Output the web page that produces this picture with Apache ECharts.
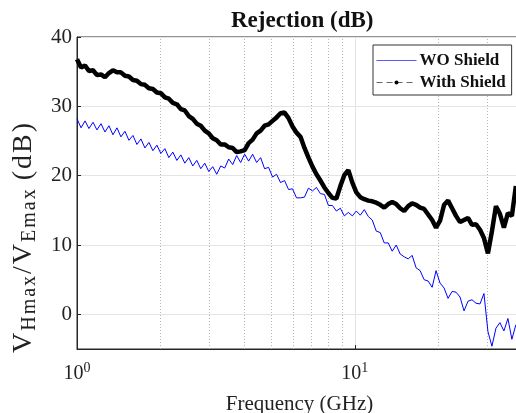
<!DOCTYPE html>
<html>
<head>
<meta charset="utf-8">
<script src="https://cdn.jsdelivr.net/npm/echarts@6/dist/echarts.min.js"></script>
<style>
  html, body { margin: 0; padding: 0; background: #fff; }
  #chart { width: 516px; height: 413px; }
</style>
</head>
<body>
<div id="chart"></div>
<script>
// Frequency samples (GHz), log-spaced
const freqGHz = [
  1.000, 1.034, 1.069, 1.104, 1.142, 1.180, 1.220, 1.261, 1.303, 1.347,
  1.393, 1.439, 1.488, 1.538, 1.590, 1.643, 1.699, 1.756, 1.815, 1.876,
  1.939, 2.004, 2.072, 2.141, 2.213, 2.288, 2.365, 2.444, 2.526, 2.611,
  2.699, 2.790, 2.884, 2.981, 3.081, 3.184, 3.292, 3.402, 3.517, 3.635,
  3.757, 3.883, 4.014, 4.149, 4.288, 4.433, 4.582, 4.736, 4.895, 5.059,
  5.230, 5.405, 5.587, 5.775, 5.969, 6.170, 6.377, 6.591, 6.813, 7.042,
  7.278, 7.523, 7.776, 8.037, 8.307, 8.587, 8.875, 9.174, 9.482, 9.801,
  10.13, 10.47, 10.82, 11.19, 11.56, 11.95, 12.35, 12.77, 13.20, 13.64,
  14.10, 14.57, 15.06, 15.57, 16.09, 16.63, 17.19, 17.77, 18.37, 18.99,
  19.62, 20.28, 20.97, 21.67, 22.40, 23.15, 23.93, 24.74, 25.57, 26.43,
  27.32, 28.24, 29.18, 30.16, 31.18, 32.23, 33.31, 34.43, 35.59, 36.78, 38.02
];

// Rejection without shield (dB)
const woShield = [
  28.2, 26.9, 27.9, 26.8, 27.7, 26.6, 27.5, 26.3, 27.2, 25.9,
  26.9, 25.6, 26.4, 25.1, 25.8, 24.5, 25.3, 24.0, 24.8, 23.6,
  24.4, 23.2, 23.9, 22.6, 23.4, 22.2, 23.0, 21.8, 22.6, 21.4,
  22.2, 21.0, 21.8, 20.6, 21.3, 20.2, 21.4, 21.1, 22.4, 21.6,
  22.9, 21.9, 23.1, 22.1, 23.1, 21.9, 22.6, 21.0, 21.2, 19.8,
  20.2, 19.0, 19.3, 18.0, 18.1, 16.8, 16.8, 16.9, 18.2, 17.8,
  18.3, 17.4, 17.3, 15.7, 15.7, 14.9, 15.3, 14.2, 14.7, 14.2,
  14.9, 14.3, 15.1, 14.1, 13.6, 12.0, 11.8, 10.3, 10.3, 9.1,
  10.0, 8.7, 8.3, 8.0, 8.5, 6.7, 6.3, 5.0, 4.8, 3.9,
  6.3, 4.5, 3.8, 2.3, 3.3, 3.2, 2.5, 0.5, 1.9, 2.1,
  1.6, 1.5, 3.0, -2.5, -4.6, -2.0, -1.2, -2.4, -0.6, -3.6, -1.5
];

// Rejection with shield (dB)
const withShield = [
  36.8, 35.6, 35.9, 35.1, 35.2, 34.5, 34.6, 34.2, 34.8, 35.2,
  34.9, 34.9, 34.4, 34.3, 33.8, 33.7, 33.2, 33.1, 32.6, 32.5,
  32.0, 31.9, 31.3, 31.1, 30.5, 30.3, 29.6, 29.4, 28.6, 28.2,
  27.5, 27.2, 26.5, 26.1, 25.4, 25.1, 24.5, 24.5, 24.1, 24.0,
  23.4, 23.5, 23.7, 24.7, 25.2, 26.1, 26.5, 27.2, 27.4, 27.9,
  28.4, 29.0, 29.1, 28.3, 27.1, 26.2, 25.6, 24.0, 22.6, 21.3,
  20.2, 19.3, 18.3, 17.5, 16.8, 16.7, 18.5, 20.1, 20.8, 19.0,
  17.6, 16.9, 16.6, 16.4, 16.3, 16.1, 15.8, 15.4, 15.9, 16.2,
  15.9, 15.3, 14.9, 15.6, 16.0, 15.8, 15.4, 15.2, 14.4, 13.6,
  12.5, 13.5, 15.8, 16.4, 15.3, 14.2, 13.3, 13.6, 13.9, 12.9,
  13.0, 12.2, 11.0, 8.8, 12.0, 15.6, 14.5, 12.5, 14.6, 14.2, 18.5
];

// Minor decade positions for the dotted vertical grid
const minorFreqTicks = [2, 3, 4, 5, 6, 7, 8, 9, 20, 30];

const seriesNames = ['WO Shield', 'With Shield'];
const titleText = 'Rejection (dB)';
const xAxisTitle = 'Frequency (GHz)';

const serif = 'Liberation Serif, Times New Roman, serif';
const pair = (xs, ys) => xs.map((x, i) => [x, ys[i]]);

// Rich-text helper: one token per character so the label can be letter-spaced
const spaced = (text, style) => Array.from(text).map(ch => '{' + style + '|' + ch + '}').join('');
const yAxisTitle = spaced('V', 'v') + spaced('Hmax', 'sub') + spaced('/V', 'v') +
                   spaced('Emax', 'sub') + '{gap| }' + spaced('(dB)', 'v');

const chart = echarts.init(document.getElementById('chart'), null, { renderer: 'canvas', width: 516, height: 413 });

chart.setOption({
  backgroundColor: '#fff',
  animation: false,
  title: {
    text: titleText,
    left: 226,
    top: 5,
    textStyle: { fontFamily: serif, fontSize: 23, fontWeight: 'bold', color: '#111' }
  },
  legend: {
    orient: 'vertical',
    left: 373,
    top: 45,
    padding: [7, 6, 4, 3],
    itemGap: 5,
    itemWidth: 40,
    itemHeight: 5,
    backgroundColor: '#fff',
    borderColor: '#333',
    borderWidth: 1,
    borderRadius: 0,
    textStyle: { fontFamily: serif, fontSize: 17, fontWeight: 'bold', color: '#111', padding: [0, 0, 0, -2] },
    data: [
      { name: seriesNames[0], lineStyle: { color: '#5a5aff', width: 1 }, itemStyle: { color: 'rgba(0,0,0,0)', borderWidth: 0 } },
      { name: seriesNames[1], lineStyle: { color: '#666', width: 1, type: [6, 4] }, itemStyle: { color: '#000' } }
    ]
  },
  grid: {
    left: 77, right: -6, top: 37, bottom: 64,
    outerBoundsMode: 'none',
    containLabel: false,
    show: true, borderColor: '#262626', borderWidth: 1
  },
  xAxis: {
    type: 'log',
    logBase: 10,
    min: 1,
    max: 40,
    name: xAxisTitle,
    nameLocation: 'middle',
    nameGap: 45,
    nameTextStyle: { fontFamily: serif, fontSize: 21, color: '#222' },
    axisLine: { show: true, onZero: false, lineStyle: { color: '#262626', width: 1 } },
    axisTick: { show: true, inside: true, length: 4, lineStyle: { color: '#262626' } },
    splitLine: { show: true, lineStyle: { color: '#e4e4e4', width: 1 } },
    axisLabel: {
      margin: 12,
      color: '#222',
      fontFamily: serif,
      formatter: function (v) {
        const e = Math.log10(v);
        if (Math.abs(e - Math.round(e)) > 1e-6) return '';
        return '{b|10}{s|' + Math.round(e) + '}';
      },
      rich: {
        b: { fontFamily: serif, fontSize: 20, color: '#222' },
        s: { fontFamily: serif, fontSize: 14, color: '#222', padding: [0, 0, 12, 0] }
      }
    }
  },
  yAxis: {
    type: 'value',
    min: -5,
    max: 40,
    name: yAxisTitle,
    nameLocation: 'middle',
    nameRotate: 90,
    nameGap: 29,
    nameTextStyle: {
      padding: [0, 88, 0, 0],
      rich: {
        v: { fontFamily: serif, fontSize: 28, color: '#222', padding: [0, 2, 0, 0] },
        gap: { fontFamily: serif, fontSize: 28, color: '#222' },
        sub: { fontFamily: serif, fontSize: 20, color: '#222', padding: [13, 2, 0, 0] }
      }
    },
    axisLine: { show: true, onZero: false, lineStyle: { color: '#262626', width: 1 } },
    axisTick: { show: true, inside: true, length: 4, lineStyle: { color: '#262626' } },
    splitLine: { show: true, lineStyle: { color: '#e4e4e4', width: 1 } },
    axisLabel: {
      margin: 5,
      color: '#222',
      fontFamily: serif,
      fontSize: 21,
      formatter: function (v) { return v % 10 === 0 ? String(v) : ''; }
    }
  },
  series: [
    {
      // dotted minor-decade grid lines, drawn beneath the traces
      type: 'line',
      name: '_grid',
      data: [],
      z: 1,
      silent: true,
      markLine: {
        silent: true,
        z: 1,
        symbol: 'none',
        label: { show: false },
        emphasis: { disabled: true },
        lineStyle: { type: [1, 2], color: '#b5b5b5', width: 1 },
        data: minorFreqTicks.map(f => ({ xAxis: f }))
      }
    },
    {
      name: seriesNames[0],
      type: 'line',
      z: 3,
      symbol: 'none',
      data: pair(freqGHz, woShield),
      lineStyle: { color: '#0000ff', width: 1 },
      itemStyle: { color: '#0000ff' }
    },
    {
      name: seriesNames[1],
      type: 'line',
      z: 4,
      symbol: 'circle',
      symbolSize: 4,
      showSymbol: false,
      data: pair(freqGHz, withShield),
      lineStyle: { color: '#000', width: 4.5 },
      itemStyle: { color: '#000' }
    }
  ]
});
</script>
</body>
</html>
